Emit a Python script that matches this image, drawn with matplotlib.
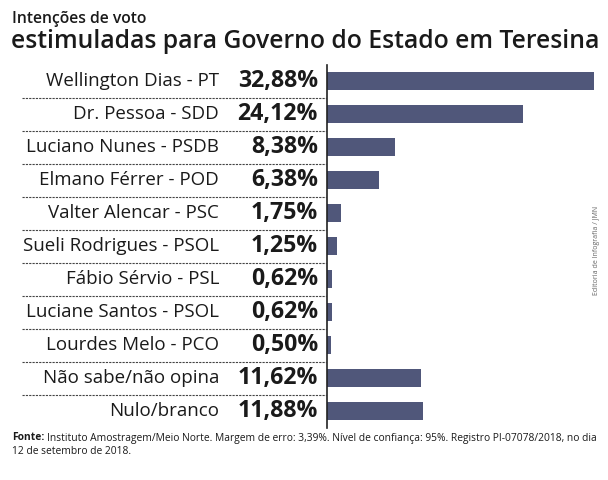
import matplotlib
matplotlib.use('Agg')
import matplotlib.pyplot as plt
from matplotlib.transforms import blended_transform_factory

# dados da pesquisa
candidatos = ['Wellington Dias - PT', 'Dr. Pessoa - SDD', 'Luciano Nunes - PSDB',
              'Elmano Férrer - POD', 'Valter Alencar - PSC', 'Sueli Rodrigues - PSOL',
              'Fábio Sérvio - PSL', 'Luciane Santos - PSOL', 'Lourdes Melo - PCO',
              'Não sabe/não opina', 'Nulo/branco']
percentuais = [32.88, 24.12, 8.38, 6.38, 1.75, 1.25, 0.62, 0.62, 0.50, 11.62, 11.88]
rotulos = ['32,88%', '24,12%', '8,38%', '6,38%', '1,75%', '1,25%', '0,62%',
           '0,62%', '0,50%', '11,62%', '11,88%']

plt.rcParams['font.family'] = ['Open Sans', 'DejaVu Sans']

W, H = 608, 480
fig = plt.figure(figsize=(W / 100, H / 100), dpi=100)
fig.patch.set_facecolor('white')

ax = fig.add_axes([327 / W, 1 - 427.5 / H, 276 / W, 363 / H])
y = list(range(len(candidatos)))
ax.barh(y, percentuais, height=0.55, color='#50577a')
ax.set_xlim(0, 34)
ax.set_ylim(len(candidatos) - 0.5, -0.5)
for s in ['top', 'right', 'bottom']:
    ax.spines[s].set_visible(False)
ax.spines['left'].set_color('#222222')
ax.spines['left'].set_linewidth(1.2)
ax.set_xticks([])
ax.set_yticks([])

tr = blended_transform_factory(fig.transFigure, ax.transData)
for i, (nome, rot) in enumerate(zip(candidatos, rotulos)):
    ax.text(219 / W, i, nome, transform=tr, ha='right', va='center',
            fontsize=13.5, color='#1a1a1a', clip_on=False)
    ax.text(318 / W, i, rot, transform=tr, ha='right', va='center',
            fontsize=16.7, fontweight='bold', color='#1a1a1a', clip_on=False)
    if i < len(candidatos) - 1:
        ax.plot([22 / W, 326 / W], [i + 0.5, i + 0.5], transform=tr,
                color='#444444', lw=0.8, ls=(0, (2, 1)), clip_on=False)

# titulo
fig.text(12 / W, 1 - 19 / H, 'Intenções de voto', fontsize=11.3,
         fontweight='semibold', color='#1a1a1a', va='center')
fig.text(11 / W, 1 - 42 / H, 'estimuladas para Governo do Estado em Teresina',
         fontsize=17.8, fontweight='semibold', color='#1a1a1a', va='center')

# rodape
t = fig.text(12 / W, 1 - 438 / H, 'Fonte:', fontsize=7.4, fontweight='bold',
             color='#1a1a1a', va='center')
fig.canvas.draw()
bb = t.get_window_extent()
fig.text((bb.x1 + 3) / W, 1 - 438 / H,
         'Instituto Amostragem/Meio Norte. Margem de erro: 3,39%. Nível de confiança: 95%. '
         'Registro PI-07078/2018, no dia',
         fontsize=7.4, color='#1a1a1a', va='center')
fig.text(12 / W, 1 - 452 / H, '12 de setembro de 2018.', fontsize=7.4,
         color='#1a1a1a', va='center')

fig.text(597 / W, 1 - 250 / H, 'Editoria de Infografia / JMN', fontsize=5,
         color='#666666', rotation=90, ha='center', va='center')

fig.savefig('out.png', dpi=100)
